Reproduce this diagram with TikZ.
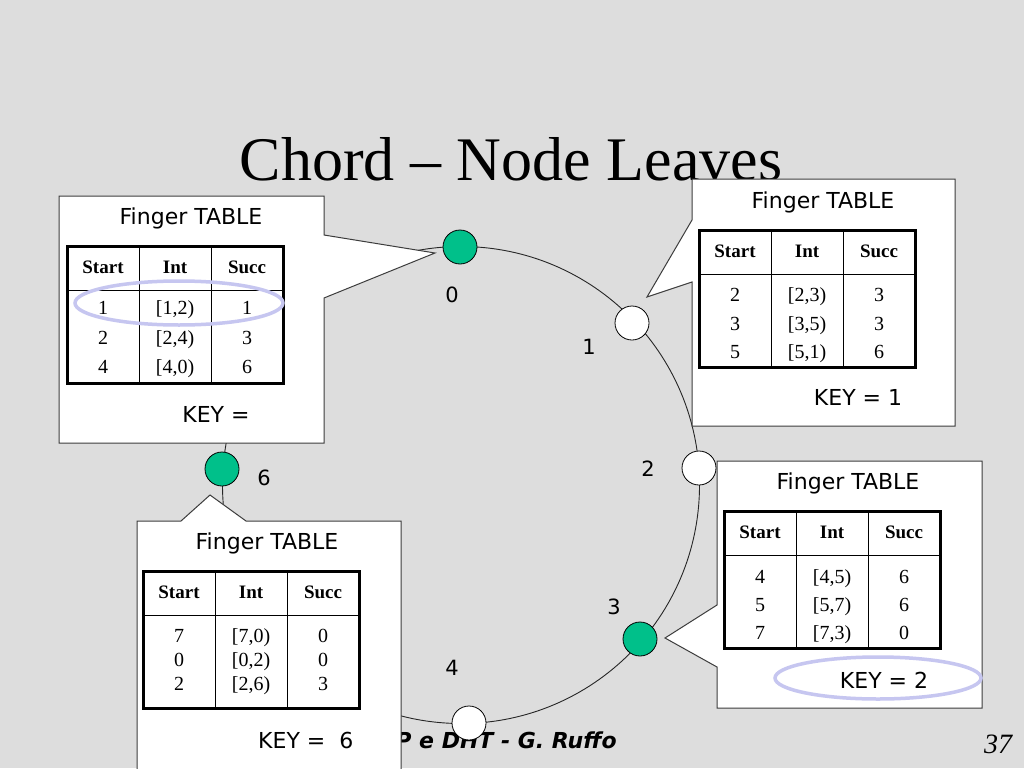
\documentclass[tikz,border=0pt]{standalone}
\usepackage{fontspec}
\setmainfont{Liberation Serif}
\setsansfont{DejaVu Sans}
\newfontfamily\footfont{DejaVu Sans}
\definecolor{bg}{RGB}{221,221,221}
\definecolor{nodegreen}{RGB}{0,192,138}
\definecolor{lav}{RGB}{198,198,240}
\definecolor{boxline}{RGB}{60,60,60}
\tikzset{
  callout/.style={fill=white, draw=boxline, line width=1pt, line join=miter},
  ringline/.style={draw=black!85, line width=0.9pt},
  ringnode/.style={circle, draw=black, line width=0.8pt, minimum size=34pt, inner sep=0pt},
  live/.style={ringnode, fill=nodegreen},
  gone/.style={ringnode, fill=white},
  lbl/.style={font=\sffamily\fontsize{21}{21}\selectfont, inner sep=0pt},
  boxtext/.style={font=\sffamily\fontsize{22}{22}\selectfont, inner sep=0pt},
  hcell/.style={font=\bfseries\fontsize{19}{19}\selectfont, inner sep=0pt, anchor=base},
  dcell/.style={font=\fontsize{20}{20}\selectfont, inner sep=0pt, anchor=base},
  tabouter/.style={draw=black, line width=3pt},
  tabinner/.style={draw=black, line width=1pt},
  hilite/.style={draw=lav, line width=3.5pt},
}
% frame and header: #1 name, #2 x0, #3 y0
\newcommand\ftable[3]{%
  \draw[tabinner] (#2,#3+44) -- (#2+216,#3+44);
  \draw[tabinner] (#2+72,#3) -- (#2+72,#3+137);
  \draw[tabinner] (#2+144,#3) -- (#2+144,#3+137);
  \draw[tabouter] (#2,#3) rectangle (#2+216,#3+137);
  \node[hcell] (#1-h1) at (#2+36,#3+27) {Start};
  \node[hcell] (#1-h2) at (#2+108,#3+27) {Int};
  \node[hcell] (#1-h3) at (#2+180,#3+27) {Succ};
}
% data row: #1 name, #2 x0, #3 row centre y, #4-#6 cells
\newcommand\frow[6]{%
  \node[dcell] (#1-a) at (#2+36,#3+7) {#4};
  \node[dcell] (#1-b) at (#2+108,#3+7) {#5};
  \node[dcell] (#1-c) at (#2+180,#3+7) {#6};
}
\begin{document}
\begin{tikzpicture}[x=1pt,y=-1pt]
\fill[bg] (0,0) rectangle (1024,768);
\useasboundingbox (0,0) rectangle (1024,768);

% ring
\draw[ringline] (461,485) circle[radius=238.5pt];

% title and footer
\node[anchor=base, inner sep=0pt, font=\fontsize{62}{62}\selectfont] (title) at (511,180) {Chord \textendash{} Node Leaves};
\node[anchor=base east, inner sep=0pt, font=\footfont\bfseries\itshape\fontsize{22}{22}\selectfont] (footer) at (617,748) {P2P e DHT - G. Ruffo};
\node[anchor=base, inner sep=0pt, font=\itshape\fontsize{28}{28}\selectfont] (page) at (998,753) {37};

% callout boxes
\path[callout] (59,196) -- (324,196) -- (324,235) -- (435,253) -- (324,298) -- (324,443) -- (59,443) -- cycle;
\path[callout] (692,179) -- (955,179) -- (955,426) -- (692,426) -- (692,282) -- (647,297) -- (692,220) -- cycle;
\path[callout] (717,461) -- (982,461) -- (982,708) -- (717,708) -- (717,667) -- (665,638) -- (717,605) -- cycle;
\path[callout] (137,521) -- (181,521) -- (210,495) -- (246,521) -- (401,521) -- (401,775) -- (137,775) -- cycle;

% top-left callout (node 0)
\node[boxtext] (tl-title) at (191,218) {Finger TABLE};
\ftable{tl}{67}{246}
\frow{tl-r1}{67}{307}{1}{[1,2)}{1}
\frow{tl-r2}{67}{337}{2}{[2,4)}{3}
\frow{tl-r3}{67}{366}{4}{[4,0)}{6}
\node[boxtext] (tl-key) at (216,414) {KEY =};
\draw[hilite] (179,303) ellipse [x radius=104pt, y radius=22pt];

% top-right callout (node 1)
\node[boxtext] (tr-title) at (823,202) {Finger TABLE};
\ftable{tr}{699}{230}
\frow{tr-r1}{699}{294}{2}{[2,3)}{3}
\frow{tr-r2}{699}{323}{3}{[3,5)}{3}
\frow{tr-r3}{699}{351}{5}{[5,1)}{6}
\node[boxtext] (tr-key) at (858,397) {KEY = 1};

% bottom-right callout (node 3)
\node[boxtext] (br-title) at (848,483) {Finger TABLE};
\ftable{br}{724}{511}
\frow{br-r1}{724}{576}{4}{[4,5)}{6}
\frow{br-r2}{724}{604}{5}{[5,7)}{6}
\frow{br-r3}{724}{632}{7}{[7,3)}{0}
\node[boxtext] (br-key) at (884,680) {KEY = 2};
\draw[hilite] (878,678) ellipse [x radius=103pt, y radius=21pt];

% bottom-left callout (node 6)
\node[boxtext] (bl-title) at (267,543) {Finger TABLE};
\ftable{bl}{143}{571}
\frow{bl-r1}{143}{635}{7}{[7,0)}{0}
\frow{bl-r2}{143}{659}{0}{[0,2)}{0}
\frow{bl-r3}{143}{683}{2}{[2,6)}{3}
\node[boxtext, anchor=base west] (bl-key) at (258,748) {KEY =\hspace{14pt}6};

% ring nodes
\node[live] (n0) at (460,247) {};
\node[gone] (n1) at (632,323) {};
\node[gone] (n2) at (699,468) {};
\node[live] (n3) at (640,639) {};
\node[gone] (n4) at (469,723) {};
\node[live] (n6) at (222,469) {};

% ring labels
\node[lbl] (l0) at (452,295) {0};
\node[lbl] (l1) at (589,347) {1};
\node[lbl] (l2) at (648,469) {2};
\node[lbl] (l3) at (614,607) {3};
\node[lbl] (l4) at (452,668) {4};
\node[lbl] (l6) at (264,478) {6};
\end{tikzpicture}
\end{document}
